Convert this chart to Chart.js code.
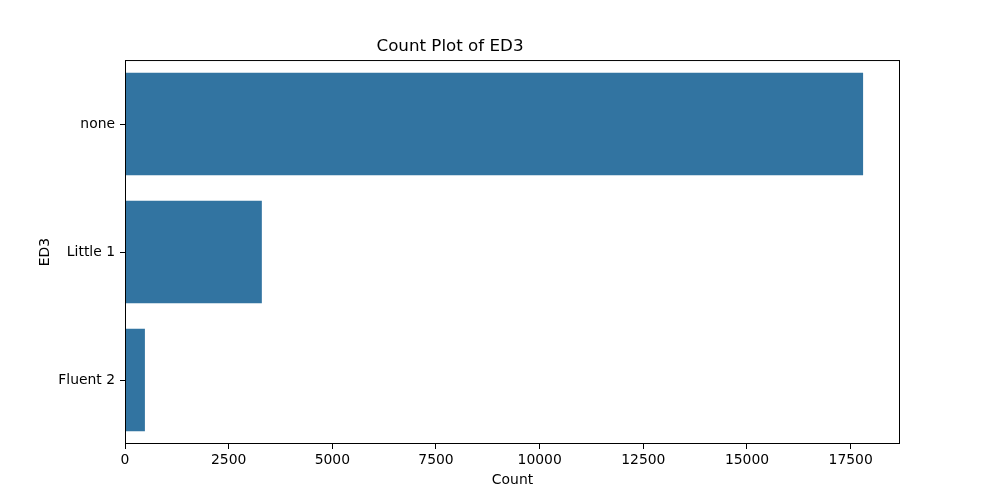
<!DOCTYPE html>
<html>
<head>
<meta charset="utf-8">
<script src="https://cdn.jsdelivr.net/npm/chart.js@4"></script>
<style>
  body { margin: 0; background: #fff; }
  #wrap { width: 1000px; height: 500px; }
</style>
</head>
<body>
<div id="wrap"><canvas id="chart" width="1000" height="500"></canvas></div>
<script>
const categories = ["none", "Little 1", "Fluent 2"];
const counts = [17800, 3300, 480];
const xTicks = [0, 2500, 5000, 7500, 10000, 12500, 15000, 17500];
const xMax = 18690;

const font = "'DejaVu Sans', sans-serif";

// matplotlib style box round the plot area
const frame = {
  id: "frame",
  afterDraw(chart) {
    const { ctx, chartArea: a } = chart;
    ctx.save();
    ctx.strokeStyle = "#000";
    ctx.lineWidth = 1;
    ctx.strokeRect(a.left + 0.5, a.top + 0.5, a.right - a.left - 1, a.bottom - a.top - 1);
    ctx.restore();
  }
};

const ctx = document.getElementById("chart").getContext("2d");
new Chart(ctx, {
  type: "bar",
  data: {
    labels: categories,
    datasets: [{
      data: counts,
      backgroundColor: "#3274a1",
      borderWidth: 0,
      barPercentage: 0.8,
      categoryPercentage: 1.0
    }]
  },
  options: {
    indexAxis: "y",
    responsive: false,
    animation: false,
    devicePixelRatio: 1,
    layout: { padding: { left: 0, right: 100, top: 0, bottom: 0 } },
    plugins: {
      legend: { display: false },
      tooltip: { enabled: false },
      title: {
        display: true,
        text: "Count Plot of ED3",
        color: "#000",
        font: { family: font, size: 16.7, weight: "normal" },
        padding: { top: 37, bottom: 3 }
      }
    },
    scales: {
      x: {
        min: 0,
        max: xMax,
        afterFit(scale) { scale.height = 56; },
        afterBuildTicks(scale) { scale.ticks = xTicks.map(v => ({ value: v })); },
        grid: { drawOnChartArea: false, tickLength: 5, tickColor: "#000", color: "#000" },
        border: { display: false },
        ticks: {
          color: "#000",
          font: { family: font, size: 13.9 },
          padding: 3,
          maxRotation: 0,
          autoSkip: false,
          callback: v => String(v)
        },
        title: {
          display: true,
          text: "Count",
          color: "#000",
          font: { family: font, size: 13.9 },
          padding: { top: 0, bottom: 11 }
        }
      },
      y: {
        afterFit(scale) { scale.width = 125; },
        grid: { offset: false, drawOnChartArea: false, tickLength: 5, tickColor: "#000", color: "#000" },
        border: { display: false },
        ticks: {
          color: "#000",
          font: { family: font, size: 13.9 },
          padding: 5
        },
        title: {
          display: true,
          text: "ED3",
          color: "#000",
          font: { family: font, size: 13.9 },
          padding: { top: 37, bottom: 0 }
        }
      }
    }
  },
  plugins: [frame]
});
</script>
</body>
</html>
